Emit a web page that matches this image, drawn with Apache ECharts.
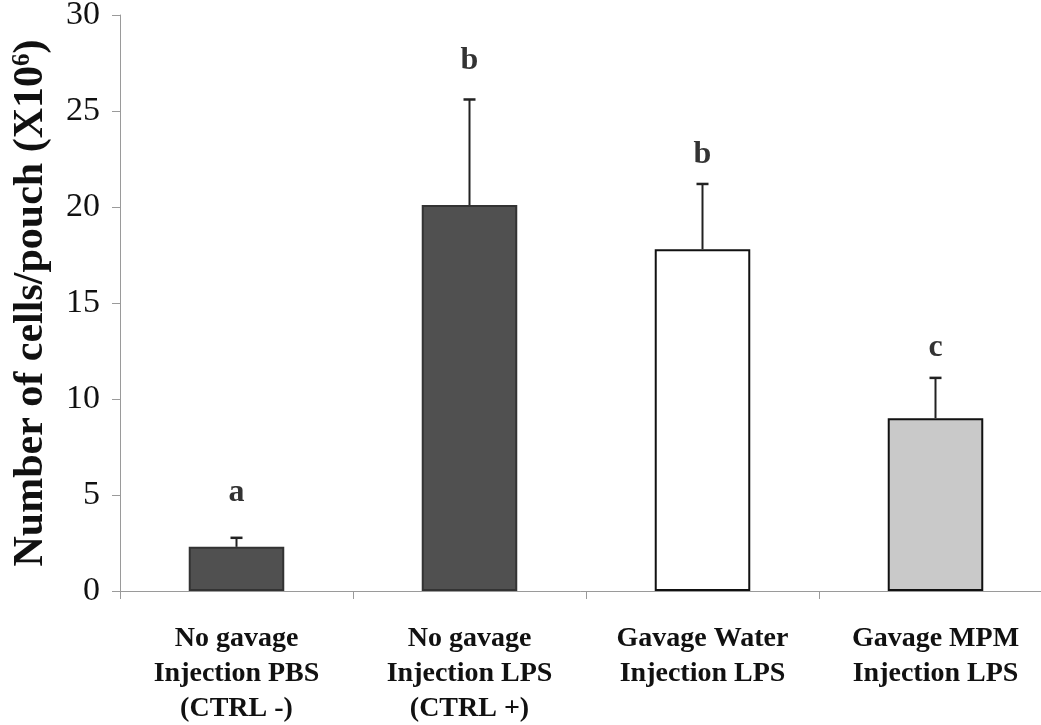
<!DOCTYPE html>
<html>
<head>
<meta charset="utf-8">
<script src="https://cdn.jsdelivr.net/npm/echarts@6/dist/echarts.min.js"></script>
<style>
html,body{margin:0;padding:0;background:#fff;}
#chart{width:1041px;height:725px;}
</style>
</head>
<body>
<div id="chart"></div>
<script>
// ---- data ----
var categories = [
  "No gavage\nInjection PBS\n(CTRL -)",
  "No gavage\nInjection LPS\n(CTRL +)",
  "Gavage Water\nInjection LPS",
  "Gavage MPM\nInjection LPS"
];
var means = [2.3, 20.1, 17.8, 9.0];
var errors = [0.47, 5.5, 3.4, 2.1];
var letters = ["a", "b", "b", "c"];
var letterPos = [5.1, 27.6, 22.7, 12.65];
var yTicks = [0, 5, 10, 15, 20, 25, 30];

// ---- styles ----
var barFill = ["#505050", "#505050", "#ffffff", "#c9c9c9"];
var barBorder = ["#333333", "#333333", "#111111", "#111111"];
var axisGray = "#9a9a9a";
var serif = "'Liberation Serif', 'Times New Roman', serif";

var chart = echarts.init(document.getElementById('chart'), null, {renderer: 'canvas'});

var option = {
  backgroundColor: '#ffffff',
  animation: false,
  grid: {left: 120, top: 15, bottom: 134, width: 932, outerBoundsMode: 'none', containLabel: false},
  xAxis: {
    type: 'category',
    data: categories,
    axisLine: {lineStyle: {color: axisGray, width: 1}},
    axisTick: {show: true, length: 8, inside: false, alignWithLabel: false, lineStyle: {color: axisGray}},
    axisLabel: {
      margin: 30,
      color: '#111',
      fontFamily: serif,
      fontWeight: 'bold',
      fontSize: 28,
      lineHeight: 35,
      interval: 0
    },
    splitLine: {show: false}
  },
  yAxis: {
    type: 'value',
    min: yTicks[0],
    max: yTicks[yTicks.length - 1],
    interval: 5,
    axisLine: {show: true, lineStyle: {color: axisGray, width: 1}},
    axisTick: {show: true, length: 8, lineStyle: {color: axisGray}},
    axisLabel: {margin: 20, color: '#111', fontFamily: serif, fontSize: 34},
    splitLine: {show: false},
    name: '{a|Number of cells/pouch (X10}{s|6}{a|)}',
    nameLocation: 'middle',
    nameGap: 68,
    nameRotate: 90,
    nameTextStyle: {
      rich: {
        a: {fontFamily: serif, fontWeight: 'bold', fontSize: 42, color: '#111'},
        s: {fontFamily: serif, fontWeight: 'bold', fontSize: 25, color: '#111', verticalAlign: 'top', padding: [0, 0, 17, 0]}
      }
    }
  },
  series: [
    {
      type: 'bar',
      barWidth: '41%',
      data: means.map(function (v, i) {
        return {value: v, itemStyle: {color: barFill[i], borderColor: barBorder[i], borderWidth: 2}};
      }),
      z: 2
    },
    {
      type: 'custom',
      data: means.map(function (v, i) { return [i, v, errors[i]]; }),
      renderItem: function (params, api) {
        var i = api.value(0);
        var base = api.coord([i, api.value(1)]);
        var top = api.coord([i, api.value(1) + api.value(2)]);
        return {
          type: 'group',
          children: [
            {type: 'line', shape: {x1: base[0], y1: base[1], x2: top[0], y2: top[1]}, style: {stroke: '#222', lineWidth: 2}},
            {type: 'line', shape: {x1: top[0] - 6, y1: top[1], x2: top[0] + 6, y2: top[1]}, style: {stroke: '#222', lineWidth: 2.5}}
          ]
        };
      },
      z: 3
    },
    {
      type: 'scatter',
      symbolSize: 0,
      data: letterPos.map(function (v, i) { return [i, v]; }),
      label: {
        show: true,
        position: 'inside',
        formatter: function (p) { return letters[p.dataIndex]; },
        fontFamily: serif,
        fontWeight: 'bold',
        fontSize: 32,
        color: '#000'
      },
      emphasis: {disabled: true},
      z: 4
    }
  ]
};
chart.setOption(option);
</script>
</body>
</html>
